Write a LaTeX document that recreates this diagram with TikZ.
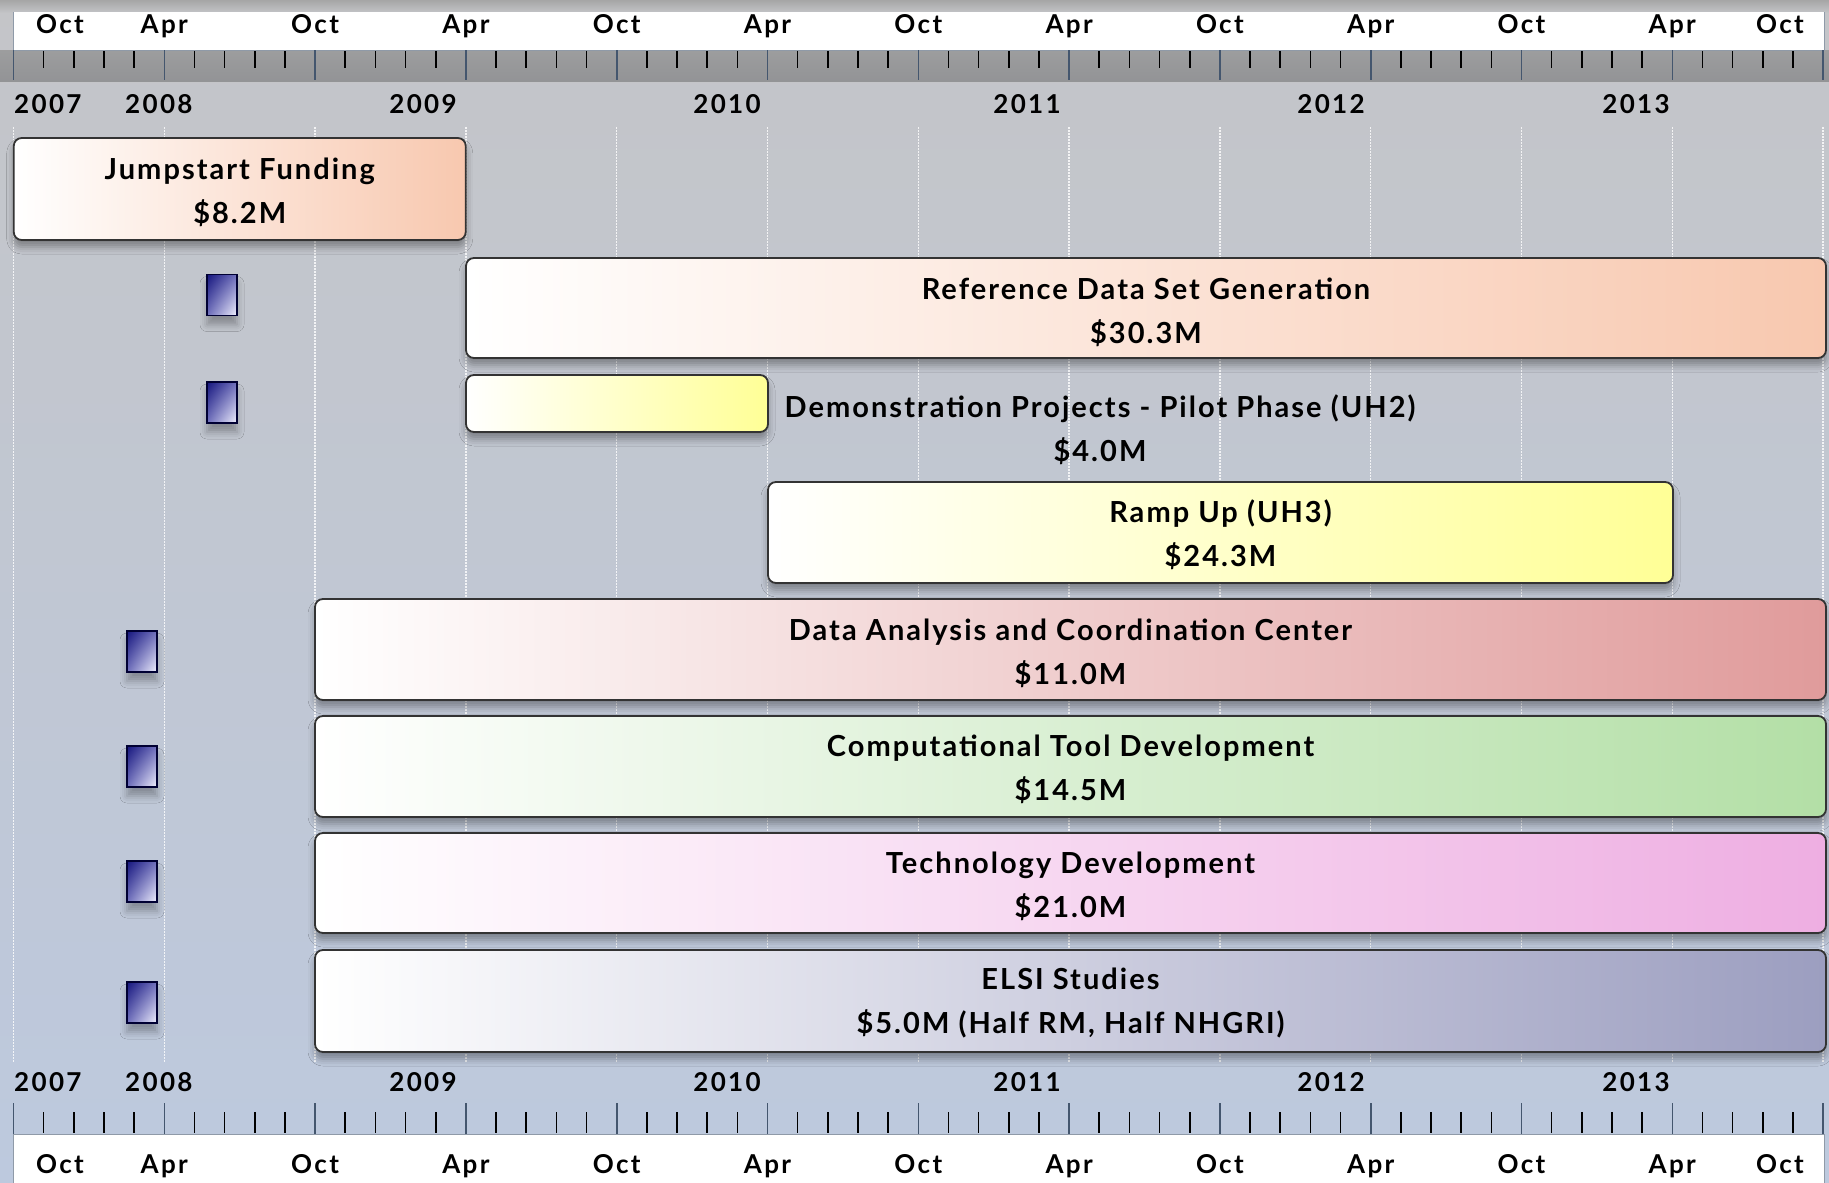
\documentclass[tikz,border=0pt]{standalone}
\usepackage{fontspec}
\newfontfamily\gfont{Lato}[LetterSpace=7]
\newfontfamily\afont{Lato}[LetterSpace=9]
\usetikzlibrary{shadows.blur,shadings}
\definecolor{bgtop}{HTML}{C4C5C8}
\definecolor{bgbot}{HTML}{BDC9DE}
\definecolor{peach}{HTML}{F8C8AF}
\definecolor{lemon}{HTML}{FFFF96}
\definecolor{rose}{HTML}{E09B9B}
\definecolor{mintc}{HTML}{B3DFA6}
\definecolor{orchid}{HTML}{EEAEE2}
\definecolor{slate}{HTML}{9C9EC0}
\definecolor{navyA}{HTML}{16167E}
\definecolor{navyB}{HTML}{7070BC}
\definecolor{navyC}{HTML}{F2F2FF}
\definecolor{majtick}{HTML}{44566E}
\begin{document}
\begin{tikzpicture}[x=1pt,y=-1pt,
  bar/.style={draw=black!80, line width=1.8pt, rounded corners=8pt,
    inner sep=0pt, left color=white,
    blur shadow={shadow xshift=0pt, shadow yshift=-7pt, shadow blur radius=7pt, shadow opacity=35}},
  mstone/.style={draw=black!80!blue, line width=1.6pt, minimum width=30pt, minimum height=41pt,
    inner sep=0pt, upper left=navyA, upper right=navyB, lower left=navyB, lower right=navyC,
    blur shadow={shadow xshift=0pt, shadow yshift=-9pt, shadow blur radius=7pt, shadow opacity=30}},
  axlbl/.style={font=\afont\bfseries\fontsize{26}{30}\selectfont, inner sep=0pt},
  barlbl/.style={font=\gfont\bfseries\fontsize{29}{44}\selectfont, align=center, inner sep=0pt},
  gridln/.style={white, line width=1.5pt, dash pattern=on 1.5pt off 1.5pt, opacity=0.8},
  majt/.style={majtick, line width=1.6pt},
  minort/.style={black, line width=1.6pt}
]
\useasboundingbox (0,0) rectangle (1829,1183);
% background
\fill[top color=bgtop, bottom color=bgbot] (0,0) rectangle (1829,1183);
\fill[top color=black!35, bottom color=bgtop] (0,0) rectangle (1829,13);
\fill[top color=black!15, bottom color=bgtop, opacity=0.5] (0,50) rectangle (1829,82);
% top and bottom white strips
\fill[white] (13.5,12) rectangle (1824,50);
\draw[majtick!60, line width=1pt] (13.5,12) -- (13.5,50) -- (1824,50) -- (1824,12);
\fill[white] (13.5,1134) rectangle (1824,1183);
\draw[majtick!60, line width=1pt] (13.5,1183) -- (13.5,1134) -- (1824,1134) -- (1824,1183);
% grid lines and ticks
\foreach \k in {0,...,12}{
  \pgfmathsetmacro\xx{13.5+150.8*\k}
  \draw[gridln] (\xx,127) -- (\xx,1062);
  \draw[majt] (\xx,50) -- (\xx,80);
  \draw[majt] (\xx,1103) -- (\xx,1134);
}
\foreach \k in {0,...,11}{
  \foreach \j in {1,...,4}{
    \pgfmathsetmacro\xx{13.5+150.8*\k+30.16*\j}
    \draw[minort] (\xx,51) -- (\xx,68);
    \draw[minort] (\xx,1112) -- (\xx,1133);
  }
}
% month labels
\foreach \k/\xx/\mm in {0/60/Oct,1/164.3/Apr,2/315.1/Oct,3/465.9/Apr,4/616.7/Oct,5/767.5/Apr,6/918.3/Oct,7/1069.1/Apr,8/1219.9/Oct,9/1370.7/Apr,10/1521.5/Oct,11/1672.3/Apr,12/1780/Oct}{
  \node[axlbl, anchor=base] (mt\k) at (\xx,33) {\mm};
  \node[axlbl, anchor=base] (mb\k) at (\xx,1173) {\mm};
}
% year labels
\node[axlbl, anchor=base west] (yt2007) at (14,113) {2007};
\node[axlbl, anchor=base west] (yt2008) at (125,113) {2008};
\node[axlbl, anchor=base west] (yb2007) at (14,1091) {2007};
\node[axlbl, anchor=base west] (yb2008) at (125,1091) {2008};
\foreach \yr/\xx in {2009/423,2010/727,2011/1027,2012/1331,2013/1636}{
  \node[axlbl, anchor=base] (yt\yr) at (\xx,113) {\yr};
  \node[axlbl, anchor=base] (yb\yr) at (\xx,1091) {\yr};
}
% milestones
\node[mstone] (m1) at (222,295) {};
\node[mstone] (m2) at (222,402.5) {};
\node[mstone] (m3) at (142,651.5) {};
\node[mstone] (m4) at (142,766.5) {};
\node[mstone] (m5) at (142,881.5) {};
\node[mstone] (m6) at (142,1002.5) {};
% bars
\node[bar, right color=peach, minimum width=452pt, minimum height=102pt] (jump) at (239.75,189) {};
\node[bar, right color=peach, minimum width=1360pt, minimum height=100pt] (refgen) at (1146,308) {};
\node[bar, right color=lemon, minimum width=302pt, minimum height=57pt] (demo) at (617,403.5) {};
\node[bar, right color=lemon, minimum width=905pt, minimum height=101pt] (ramp) at (1220.5,532.5) {};
\node[bar, right color=rose, minimum width=1511pt, minimum height=101pt] (dacc) at (1070.5,649.5) {};
\node[bar, right color=mintc, minimum width=1511pt, minimum height=101pt] (tool) at (1070.5,766.5) {};
\node[bar, right color=orchid, minimum width=1511pt, minimum height=100pt] (tech) at (1070.5,883) {};
\node[bar, right color=slate, minimum width=1511pt, minimum height=102pt] (elsi) at (1070.5,1001) {};
% bar labels
\node[barlbl] (jumpt) at ([yshift=-3.5pt]jump.center) {Jumpstart Funding\\\$8.2M};
\node[barlbl] (refgent) at ([yshift=-4.5pt]refgen.center) {Reference Data Set Generation\\\$30.3M};
\node[barlbl] (demot) at (1100,430) {Demonstration Projects - Pilot Phase (UH2)\\\$4.0M};
\node[barlbl] (rampt) at ([yshift=-2pt]ramp.center) {Ramp Up (UH3)\\\$24.3M};
\node[barlbl] (dacct) at ([yshift=-3.5pt]dacc.center) {Data Analysis and Coordination Center\\\$11.0M};
\node[barlbl] (toolt) at ([yshift=-3pt]tool.center) {Computational Tool Development\\\$14.5M};
\node[barlbl] (techt) at ([yshift=-3pt]tech.center) {Technology Development\\\$21.0M};
\node[barlbl] (elsit) at ([yshift=-2.5pt]elsi.center) {ELSI Studies\\\$5.0M (Half RM, Half NHGRI)};
\end{tikzpicture}
\end{document}
